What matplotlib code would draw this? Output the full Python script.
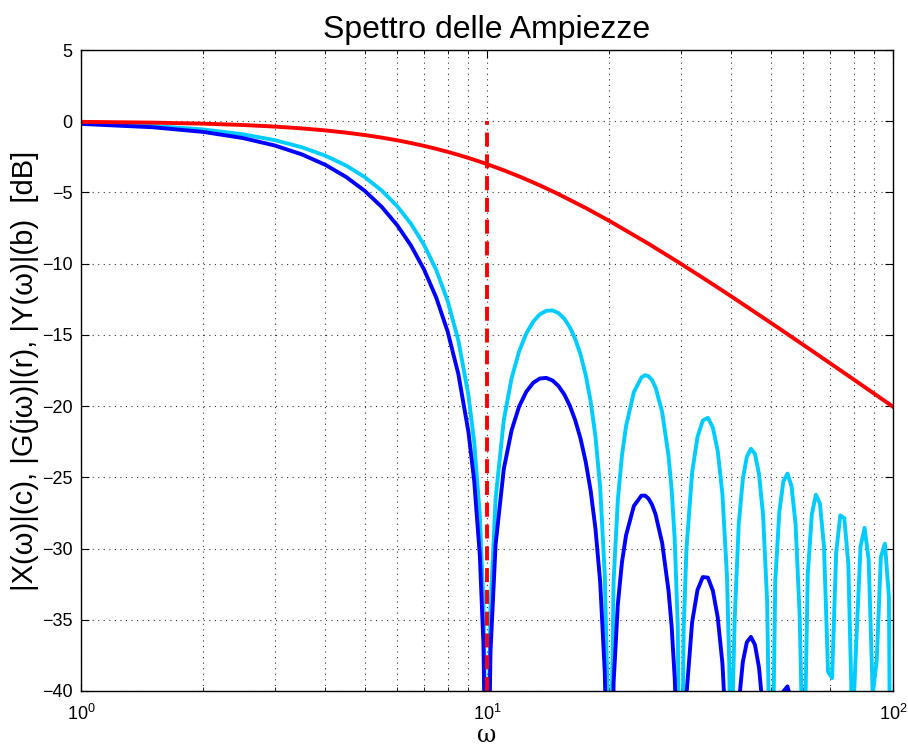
import matplotlib
matplotlib.use("Agg")
import matplotlib.pyplot as plt

plt.rcParams['font.family'] = ['Liberation Sans', 'DejaVu Sans']
plt.rcParams['mathtext.fontset'] = 'custom'
plt.rcParams['mathtext.rm'] = 'Liberation Sans'
plt.rcParams['mathtext.it'] = 'Liberation Sans:italic'

# |X(w)| : spectrum of the rectangular pulse [dB]
omega_x = [
    1, 1.5, 2, 2.5, 3, 3.5, 4, 4.5, 5, 5.5, 6, 6.5, 7, 7.5, 8, 8.5, 9, 9.3, 9.6, 9.8, 9.95,
    10.05, 10.2, 10.5, 11, 11.5, 12, 12.5, 13, 13.5, 14, 14.5, 15, 15.5, 16, 16.5, 17, 17.5,
    18, 18.5, 19, 19.5, 19.8, 19.95,
    20.05, 20.5, 21, 21.5, 22, 23, 24, 24.5, 25, 25.5, 26, 27, 28, 28.5, 29, 29.5, 29.95,
    30.05, 30.5, 31, 32, 33, 34, 35, 36, 37, 38, 39, 39.5,
    39.81, 40.74, 41.69, 42.66, 43.65, 44.67, 45.71, 46.77, 47.86, 48.98,
    50.12, 51.29, 52.48, 53.70, 54.95, 56.23, 57.54, 58.88,
    60.26, 61.66, 63.10, 64.57, 66.07, 67.61, 69.18,
    70.79, 72.44, 74.13, 75.86, 77.62, 79.43,
    81.28, 83.18, 85.11, 87.10, 89.13,
    91.20, 93.33, 95.50, 97.72, 100.0,
]
mag_x = [
    -0.144, -0.324, -0.579, -0.912, -1.327, -1.827, -2.420, -3.114, -3.922, -4.858, -5.941,
    -7.204, -8.686, -10.454, -12.62, -15.39, -19.23, -22.54, -27.63, -33.81, -45.98,
    -46.07, -34.16, -26.48, -20.97, -18.02, -16.15, -14.89, -14.06, -13.55, -13.31, -13.28,
    -13.47, -13.86, -14.47, -15.30, -16.39, -17.81, -19.67, -22.15, -25.72, -31.85, -39.92,
    -52.02,
    -52.07, -32.29, -26.59, -23.45, -21.41, -19.02, -17.99, -17.83, -17.90, -18.18, -18.68,
    -20.41, -23.51, -25.90, -29.39, -35.45, -55.55,
    -55.58, -35.74, -29.97, -24.67, -22.15, -21.01, -20.82, -21.51, -23.15, -26.16, -31.96,
    -37.99,
    -46.46, -34.92, -28.27, -25.14, -23.55, -22.99, -23.36, -24.77, -27.67, -33.76,
    -52.51, -32.25, -27.41, -25.28, -24.74, -25.61, -28.27, -34.63,
    -47.45, -31.80, -27.60, -26.22, -26.84, -29.86, -38.65,
    -39.09, -30.31, -27.67, -27.86, -31.11, -42.97,
    -36.27, -29.85, -28.55, -30.78, -40.27,
    -37.82, -30.60, -29.65, -33.41, -80.0,
]

# |G(jw)| : first-order low-pass filter [dB]
omega_g = [1, 1.5, 2, 2.5, 3, 3.5, 4, 4.5, 5, 5.5, 6, 6.5, 7, 7.5, 8, 8.5, 9, 9.5, 10,
           11, 12, 13, 14, 15, 17.5, 20, 25, 30, 35, 40, 50, 60, 70, 80, 90, 100]
mag_g = [-0.043, -0.097, -0.170, -0.263, -0.374, -0.502, -0.645, -0.801, -0.969, -1.148,
         -1.335, -1.531, -1.732, -1.938, -2.148, -2.362, -2.577, -2.793, -3.010,
         -3.444, -3.874, -4.298, -4.713, -5.119, -6.088, -6.990, -8.603, -10.000, -11.222,
         -12.304, -14.150, -15.682, -16.990, -18.129, -19.138, -20.043]

# |Y(w)| : filtered output spectrum [dB]
omega_y = [
    1, 1.5, 2, 2.5, 3, 3.5, 4, 4.5, 5, 5.5, 6, 6.5, 7, 7.5, 8, 8.5, 9, 9.3, 9.6, 9.8, 9.95,
    10.05, 10.2, 10.5, 11, 11.5, 12, 12.5, 13, 13.5, 14, 14.5, 15, 15.5, 16, 16.5, 17, 17.5,
    18, 18.5, 19, 19.5, 19.8, 19.95,
    20.05, 20.5, 21, 21.5, 22, 23, 24, 24.5, 25, 25.5, 26, 27, 28, 28.5, 29, 29.5, 29.95,
    30.05, 30.5, 31, 32, 33, 34, 35, 36, 37, 38, 39, 39.5,
    39.81, 40.74, 41.69, 42.66, 43.65, 44.67, 45.71, 46.77, 47.86, 48.98,
    50.12, 51.29, 52.48, 53.70, 54.95, 56.23, 57.54, 58.88, 60.26,
]
mag_y = [
    -0.187, -0.421, -0.749, -1.175, -1.701, -2.329, -3.065, -3.915, -4.891, -6.006, -7.276,
    -8.735, -10.418, -12.392, -14.77, -17.75, -21.81, -25.25, -30.47, -36.73, -48.97,
    -49.10, -37.26, -29.71, -24.41, -21.68, -20.02, -18.98, -18.36, -18.06, -18.02, -18.20,
    -18.59, -19.18, -19.98, -21.01, -22.29, -23.90, -25.94, -28.61, -32.36, -38.67, -46.84,
    -58.99,
    -59.08, -39.45, -33.92, -30.95, -29.07, -27.01, -26.29, -26.28, -26.50, -26.93, -27.58,
    -29.60, -32.98, -35.50, -39.13, -45.32, -65.54,
    -65.59, -45.87, -40.23, -35.18, -32.90, -32.00, -32.04, -32.96, -34.82, -38.05, -44.06,
    -50.19,
    -58.73, -47.37, -40.91, -37.97, -36.57, -36.20, -36.76, -38.36, -41.46, -47.74,
    -66.68, -46.61, -41.97, -40.03, -39.68, -40.75, -43.60, -50.15, -63.17,
]

omega_cut = 10
x_ticks = [1, 10, 100]
x_tick_labels = ['$10^{0}$', '$10^{1}$', '$10^{2}$']
y_ticks = [-40, -35, -30, -25, -20, -15, -10, -5, 0, 5]

fig = plt.figure(figsize=(9.08, 7.51), dpi=100)
ax = fig.add_axes([0.0892, 0.0799, 0.8943, 0.8535])

lw = 2.8
ax.plot(omega_x, mag_x, color='#00ccff', linewidth=lw)
ax.plot(omega_y, mag_y, color='#0000ff', linewidth=lw)
ax.plot(omega_g, mag_g, color='#ff0000', linewidth=lw)
ax.plot([omega_cut, omega_cut], [-40, 0], color='#ff0000', linewidth=lw,
        linestyle=(0, (3.6, 2.0)))

ax.set_xscale('log')
ax.set_xlim(1, 100)
ax.set_ylim(-40, 5)
ax.set_xticks(x_ticks)
ax.set_xticklabels(x_tick_labels)
ax.set_yticks(y_ticks)
ax.set_yticklabels([str(v).replace('-', '\u2212') for v in y_ticks])

ax.grid(True, which='major', linestyle=(0, (1, 4)), color='#333333', linewidth=0.8)
ax.grid(True, which='minor', axis='x', linestyle=(0, (1, 4)), color='#333333', linewidth=0.8)

ax.tick_params(which='both', direction='in', top=True, right=True, labelsize=13, pad=6)
ax.tick_params(which='major', length=6, width=0.8)
ax.tick_params(which='minor', length=3, width=0.6)
ax.tick_params(axis='x', which='major', pad=9)
for s in ax.spines.values():
    s.set_linewidth(1.0)

ax.set_title('Spettro delle Ampiezze', fontsize=23, pad=9)
ax.set_xlabel('ω', fontsize=17, family=['DejaVu Serif'], labelpad=0)
ax.set_ylabel('|X(ω)|(c), |G(jω)|(r), |Y(ω)|(b)  [dB]', fontsize=21, labelpad=2)

fig.savefig('out.png', dpi=100)
